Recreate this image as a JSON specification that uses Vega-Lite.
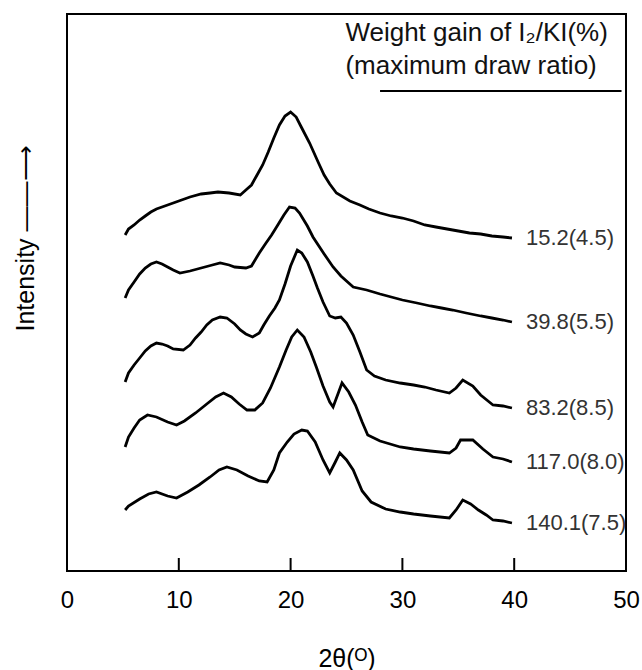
{
"$schema": "https://vega.github.io/schema/vega-lite/v6.json",
"width": 559, "height": 557,
"autosize": {"type": "none"},
"padding": {"left": 67, "top": 14, "right": 16, "bottom": 99},
"background": "white",
"config": {"view": {"stroke": "black", "strokeWidth": 2}, "font": "Liberation Sans"},
"datasets": {"xrd": [
{"s":"15.2(4.5)","x":5.2,"y":336},{"s":"15.2(4.5)","x":5.5,"y":342},{"s":"15.2(4.5)","x":6.0,"y":346},{"s":"15.2(4.5)","x":6.5,"y":351},{"s":"15.2(4.5)","x":7.0,"y":355},{"s":"15.2(4.5)","x":7.5,"y":359},{"s":"15.2(4.5)","x":8.0,"y":362},{"s":"15.2(4.5)","x":9.0,"y":366},{"s":"15.2(4.5)","x":10.0,"y":370},{"s":"15.2(4.5)","x":11.0,"y":374},{"s":"15.2(4.5)","x":12.0,"y":377},{"s":"15.2(4.5)","x":12.8,"y":378},{"s":"15.2(4.5)","x":13.5,"y":379},{"s":"15.2(4.5)","x":14.5,"y":378},{"s":"15.2(4.5)","x":15.5,"y":376},{"s":"15.2(4.5)","x":16.0,"y":381},{"s":"15.2(4.5)","x":16.5,"y":386},{"s":"15.2(4.5)","x":17.0,"y":396},{"s":"15.2(4.5)","x":17.5,"y":406},{"s":"15.2(4.5)","x":18.0,"y":419},{"s":"15.2(4.5)","x":18.5,"y":433},{"s":"15.2(4.5)","x":19.0,"y":446},{"s":"15.2(4.5)","x":19.5,"y":455},{"s":"15.2(4.5)","x":20.0,"y":459},{"s":"15.2(4.5)","x":20.5,"y":454},{"s":"15.2(4.5)","x":21.0,"y":443},{"s":"15.2(4.5)","x":21.7,"y":428},{"s":"15.2(4.5)","x":22.5,"y":408},{"s":"15.2(4.5)","x":23.0,"y":396},{"s":"15.2(4.5)","x":23.5,"y":387},{"s":"15.2(4.5)","x":24.1,"y":378},{"s":"15.2(4.5)","x":25.3,"y":370},{"s":"15.2(4.5)","x":26.2,"y":366},{"s":"15.2(4.5)","x":27.0,"y":362},{"s":"15.2(4.5)","x":28.0,"y":358},{"s":"15.2(4.5)","x":29.0,"y":355},{"s":"15.2(4.5)","x":30.0,"y":353},{"s":"15.2(4.5)","x":31.0,"y":350},{"s":"15.2(4.5)","x":32.0,"y":346},{"s":"15.2(4.5)","x":33.0,"y":344},{"s":"15.2(4.5)","x":34.0,"y":342},{"s":"15.2(4.5)","x":35.0,"y":340},{"s":"15.2(4.5)","x":36.0,"y":338},{"s":"15.2(4.5)","x":37.0,"y":337},{"s":"15.2(4.5)","x":38.0,"y":335},{"s":"15.2(4.5)","x":39.0,"y":334},{"s":"15.2(4.5)","x":39.8,"y":333},
{"s":"39.8(5.5)","x":5.2,"y":273},{"s":"39.8(5.5)","x":5.5,"y":281},{"s":"39.8(5.5)","x":6.0,"y":289},{"s":"39.8(5.5)","x":6.5,"y":297},{"s":"39.8(5.5)","x":7.0,"y":303},{"s":"39.8(5.5)","x":7.5,"y":307},{"s":"39.8(5.5)","x":8.0,"y":309},{"s":"39.8(5.5)","x":8.5,"y":307},{"s":"39.8(5.5)","x":9.0,"y":304},{"s":"39.8(5.5)","x":9.5,"y":301},{"s":"39.8(5.5)","x":10.1,"y":298},{"s":"39.8(5.5)","x":11.0,"y":300},{"s":"39.8(5.5)","x":12.0,"y":303},{"s":"39.8(5.5)","x":13.0,"y":306},{"s":"39.8(5.5)","x":13.7,"y":308},{"s":"39.8(5.5)","x":14.5,"y":306},{"s":"39.8(5.5)","x":15.0,"y":304},{"s":"39.8(5.5)","x":16.0,"y":303},{"s":"39.8(5.5)","x":16.5,"y":305},{"s":"39.8(5.5)","x":17.2,"y":318},{"s":"39.8(5.5)","x":17.8,"y":328},{"s":"39.8(5.5)","x":18.3,"y":336},{"s":"39.8(5.5)","x":18.8,"y":345},{"s":"39.8(5.5)","x":19.4,"y":356},{"s":"39.8(5.5)","x":19.9,"y":364},{"s":"39.8(5.5)","x":20.4,"y":363},{"s":"39.8(5.5)","x":20.8,"y":358},{"s":"39.8(5.5)","x":21.5,"y":345},{"s":"39.8(5.5)","x":22.0,"y":334},{"s":"39.8(5.5)","x":23.0,"y":317},{"s":"39.8(5.5)","x":23.8,"y":304},{"s":"39.8(5.5)","x":24.5,"y":295},{"s":"39.8(5.5)","x":25.6,"y":284},{"s":"39.8(5.5)","x":26.8,"y":281},{"s":"39.8(5.5)","x":28.0,"y":277},{"s":"39.8(5.5)","x":29.0,"y":274},{"s":"39.8(5.5)","x":30.0,"y":271},{"s":"39.8(5.5)","x":31.3,"y":268},{"s":"39.8(5.5)","x":32.5,"y":265},{"s":"39.8(5.5)","x":33.5,"y":263},{"s":"39.8(5.5)","x":34.5,"y":261},{"s":"39.8(5.5)","x":35.7,"y":258},{"s":"39.8(5.5)","x":37.0,"y":255},{"s":"39.8(5.5)","x":38.0,"y":253},{"s":"39.8(5.5)","x":39.0,"y":251},{"s":"39.8(5.5)","x":39.8,"y":249},
{"s":"83.2(8.5)","x":5.2,"y":189},{"s":"83.2(8.5)","x":5.5,"y":198},{"s":"83.2(8.5)","x":6.0,"y":206},{"s":"83.2(8.5)","x":6.5,"y":213},{"s":"83.2(8.5)","x":7.0,"y":220},{"s":"83.2(8.5)","x":7.5,"y":225},{"s":"83.2(8.5)","x":8.0,"y":228},{"s":"83.2(8.5)","x":8.5,"y":227},{"s":"83.2(8.5)","x":9.0,"y":225},{"s":"83.2(8.5)","x":9.5,"y":222},{"s":"83.2(8.5)","x":10.4,"y":221},{"s":"83.2(8.5)","x":11.0,"y":226},{"s":"83.2(8.5)","x":11.5,"y":233},{"s":"83.2(8.5)","x":12.0,"y":239},{"s":"83.2(8.5)","x":12.5,"y":246},{"s":"83.2(8.5)","x":13.0,"y":251},{"s":"83.2(8.5)","x":13.7,"y":254},{"s":"83.2(8.5)","x":14.3,"y":253},{"s":"83.2(8.5)","x":15.0,"y":247},{"s":"83.2(8.5)","x":15.5,"y":241},{"s":"83.2(8.5)","x":16.0,"y":237},{"s":"83.2(8.5)","x":16.6,"y":234},{"s":"83.2(8.5)","x":17.2,"y":238},{"s":"83.2(8.5)","x":17.6,"y":246},{"s":"83.2(8.5)","x":18.1,"y":255},{"s":"83.2(8.5)","x":18.6,"y":263},{"s":"83.2(8.5)","x":19.0,"y":271},{"s":"83.2(8.5)","x":19.5,"y":287},{"s":"83.2(8.5)","x":20.0,"y":305},{"s":"83.2(8.5)","x":20.6,"y":321},{"s":"83.2(8.5)","x":21.0,"y":318},{"s":"83.2(8.5)","x":21.5,"y":309},{"s":"83.2(8.5)","x":22.0,"y":295},{"s":"83.2(8.5)","x":22.4,"y":283},{"s":"83.2(8.5)","x":22.9,"y":269},{"s":"83.2(8.5)","x":23.5,"y":255},{"s":"83.2(8.5)","x":24.0,"y":253},{"s":"83.2(8.5)","x":24.5,"y":254},{"s":"83.2(8.5)","x":25.0,"y":248},{"s":"83.2(8.5)","x":25.6,"y":236},{"s":"83.2(8.5)","x":26.2,"y":219},{"s":"83.2(8.5)","x":26.8,"y":201},{"s":"83.2(8.5)","x":27.5,"y":195},{"s":"83.2(8.5)","x":28.5,"y":191},{"s":"83.2(8.5)","x":29.8,"y":188},{"s":"83.2(8.5)","x":31.0,"y":186},{"s":"83.2(8.5)","x":32.0,"y":184},{"s":"83.2(8.5)","x":33.0,"y":181},{"s":"83.2(8.5)","x":34.2,"y":178},{"s":"83.2(8.5)","x":34.8,"y":183},{"s":"83.2(8.5)","x":35.4,"y":191},{"s":"83.2(8.5)","x":36.3,"y":185},{"s":"83.2(8.5)","x":37.0,"y":176},{"s":"83.2(8.5)","x":38.1,"y":166},{"s":"83.2(8.5)","x":39.0,"y":165},{"s":"83.2(8.5)","x":39.8,"y":163},
{"s":"117.0(8.0)","x":5.2,"y":124},{"s":"117.0(8.0)","x":5.5,"y":134},{"s":"117.0(8.0)","x":6.0,"y":143},{"s":"117.0(8.0)","x":6.5,"y":151},{"s":"117.0(8.0)","x":7.2,"y":156},{"s":"117.0(8.0)","x":8.0,"y":154},{"s":"117.0(8.0)","x":9.0,"y":149},{"s":"117.0(8.0)","x":9.8,"y":146},{"s":"117.0(8.0)","x":10.5,"y":150},{"s":"117.0(8.0)","x":11.5,"y":158},{"s":"117.0(8.0)","x":12.5,"y":167},{"s":"117.0(8.0)","x":13.3,"y":174},{"s":"117.0(8.0)","x":14.0,"y":178},{"s":"117.0(8.0)","x":14.7,"y":174},{"s":"117.0(8.0)","x":15.4,"y":167},{"s":"117.0(8.0)","x":16.1,"y":161},{"s":"117.0(8.0)","x":16.8,"y":161},{"s":"117.0(8.0)","x":17.5,"y":168},{"s":"117.0(8.0)","x":18.2,"y":183},{"s":"117.0(8.0)","x":19.0,"y":204},{"s":"117.0(8.0)","x":19.6,"y":221},{"s":"117.0(8.0)","x":20.1,"y":234},{"s":"117.0(8.0)","x":20.6,"y":241},{"s":"117.0(8.0)","x":21.2,"y":234},{"s":"117.0(8.0)","x":21.8,"y":219},{"s":"117.0(8.0)","x":22.3,"y":204},{"s":"117.0(8.0)","x":22.9,"y":185},{"s":"117.0(8.0)","x":23.5,"y":169},{"s":"117.0(8.0)","x":23.8,"y":164},{"s":"117.0(8.0)","x":24.3,"y":179},{"s":"117.0(8.0)","x":24.6,"y":188},{"s":"117.0(8.0)","x":25.2,"y":179},{"s":"117.0(8.0)","x":25.8,"y":166},{"s":"117.0(8.0)","x":26.4,"y":149},{"s":"117.0(8.0)","x":26.9,"y":136},{"s":"117.0(8.0)","x":28.0,"y":130},{"s":"117.0(8.0)","x":29.8,"y":124},{"s":"117.0(8.0)","x":31.0,"y":122},{"s":"117.0(8.0)","x":32.5,"y":120},{"s":"117.0(8.0)","x":34.2,"y":118},{"s":"117.0(8.0)","x":34.8,"y":123},{"s":"117.0(8.0)","x":35.2,"y":131},{"s":"117.0(8.0)","x":36.3,"y":131},{"s":"117.0(8.0)","x":37.2,"y":122},{"s":"117.0(8.0)","x":38.1,"y":114},{"s":"117.0(8.0)","x":39.0,"y":112},{"s":"117.0(8.0)","x":39.8,"y":109},
{"s":"140.1(7.5)","x":5.2,"y":61},{"s":"140.1(7.5)","x":5.5,"y":65},{"s":"140.1(7.5)","x":6.5,"y":72},{"s":"140.1(7.5)","x":7.3,"y":77},{"s":"140.1(7.5)","x":8.0,"y":79},{"s":"140.1(7.5)","x":9.0,"y":75},{"s":"140.1(7.5)","x":9.8,"y":73},{"s":"140.1(7.5)","x":10.8,"y":79},{"s":"140.1(7.5)","x":11.8,"y":86},{"s":"140.1(7.5)","x":12.8,"y":94},{"s":"140.1(7.5)","x":13.6,"y":101},{"s":"140.1(7.5)","x":14.3,"y":104},{"s":"140.1(7.5)","x":15.2,"y":101},{"s":"140.1(7.5)","x":16.2,"y":95},{"s":"140.1(7.5)","x":17.2,"y":90},{"s":"140.1(7.5)","x":17.9,"y":89},{"s":"140.1(7.5)","x":18.5,"y":101},{"s":"140.1(7.5)","x":19.0,"y":118},{"s":"140.1(7.5)","x":19.7,"y":129},{"s":"140.1(7.5)","x":20.3,"y":137},{"s":"140.1(7.5)","x":21.0,"y":141},{"s":"140.1(7.5)","x":21.5,"y":140},{"s":"140.1(7.5)","x":22.2,"y":129},{"s":"140.1(7.5)","x":22.9,"y":111},{"s":"140.1(7.5)","x":23.5,"y":98},{"s":"140.1(7.5)","x":24.0,"y":109},{"s":"140.1(7.5)","x":24.4,"y":118},{"s":"140.1(7.5)","x":25.0,"y":111},{"s":"140.1(7.5)","x":25.6,"y":101},{"s":"140.1(7.5)","x":26.4,"y":80},{"s":"140.1(7.5)","x":27.2,"y":69},{"s":"140.1(7.5)","x":28.5,"y":62},{"s":"140.1(7.5)","x":29.8,"y":59},{"s":"140.1(7.5)","x":31.0,"y":57},{"s":"140.1(7.5)","x":32.5,"y":55},{"s":"140.1(7.5)","x":34.2,"y":53},{"s":"140.1(7.5)","x":34.8,"y":61},{"s":"140.1(7.5)","x":35.4,"y":71},{"s":"140.1(7.5)","x":36.1,"y":67},{"s":"140.1(7.5)","x":36.8,"y":61},{"s":"140.1(7.5)","x":37.5,"y":56},{"s":"140.1(7.5)","x":38.1,"y":51},{"s":"140.1(7.5)","x":39.0,"y":50},{"s":"140.1(7.5)","x":39.8,"y":48}
]},
"data": {"name": "xrd"},
"layer": [
{"mark": {"type": "line", "color": "black", "strokeWidth": 2.8},
 "encoding": {
  "x": {"field": "x", "type": "quantitative", "scale": {"domain": [0, 50], "nice": false},
   "axis": {"values": [0, 10, 20, 30, 40, 50], "title": "2θ(ᴼ)", "grid": false, "domain": false,
    "ticks": false, "labelFontSize": 24, "labelColor": "black",
    "labelBaseline": "alphabetic", "labelPadding": 36, "labelFlush": false, "labelOverlap": false,
    "titleFontSize": 25, "titleFontWeight": "normal", "titleColor": "black", "titleY": 95, "titleBaseline": "alphabetic"}},
  "y": {"field": "y", "type": "quantitative", "scale": {"domain": [0, 557], "nice": false},
   "axis": {"title": "Intensity ——⟶", "domain": false, "ticks": false, "labels": false, "grid": false,
    "titleFontSize": 25, "titleFontWeight": "normal", "titleColor": "black", "titleAngle": 270,
    "titleX": -34, "titleY": 224, "titleAlign": "center", "titleBaseline": "alphabetic"}},
  "detail": {"field": "s"},
  "order": {"field": "x"}
 }},
{"data": {"values": [{"t": 10, "lo": 0, "hi": 13}, {"t": 20, "lo": 0, "hi": 13}, {"t": 30, "lo": 0, "hi": 13}, {"t": 40, "lo": 0, "hi": 13}]},
 "mark": {"type": "rule", "color": "black", "strokeWidth": 2},
 "encoding": {"x": {"field": "t", "type": "quantitative"}, "y": {"field": "lo", "type": "quantitative"}, "y2": {"field": "hi"}}},
{"transform": [{"aggregate": [{"op": "argmax", "field": "x", "as": "last"}], "groupby": ["s"]}],
 "mark": {"type": "text", "align": "left", "baseline": "middle", "dx": 14, "fontSize": 22, "color": "#333"},
 "encoding": {
  "x": {"field": "last.x", "type": "quantitative"},
  "y": {"field": "last.y", "type": "quantitative"},
  "text": {"field": "s"}
 }},
{"data": {"values": [{}]},
 "mark": {"type": "text", "align": "left", "baseline": "middle", "fontSize": 26, "color": "#111"},
 "encoding": {"x": {"datum": 24.9}, "y": {"datum": 538}, "text": {"value": "Weight gain of I₂/KI(%)"}}},
{"data": {"values": [{}]},
 "mark": {"type": "text", "align": "left", "baseline": "middle", "fontSize": 26, "color": "#111"},
 "encoding": {"x": {"datum": 24.9}, "y": {"datum": 505}, "text": {"value": "(maximum draw ratio)"}}},
{"data": {"values": [{}]},
 "mark": {"type": "rule", "color": "black", "strokeWidth": 2},
 "encoding": {"x": {"datum": 28.0}, "x2": {"datum": 49.6}, "y": {"datum": 480}}}
]
}
